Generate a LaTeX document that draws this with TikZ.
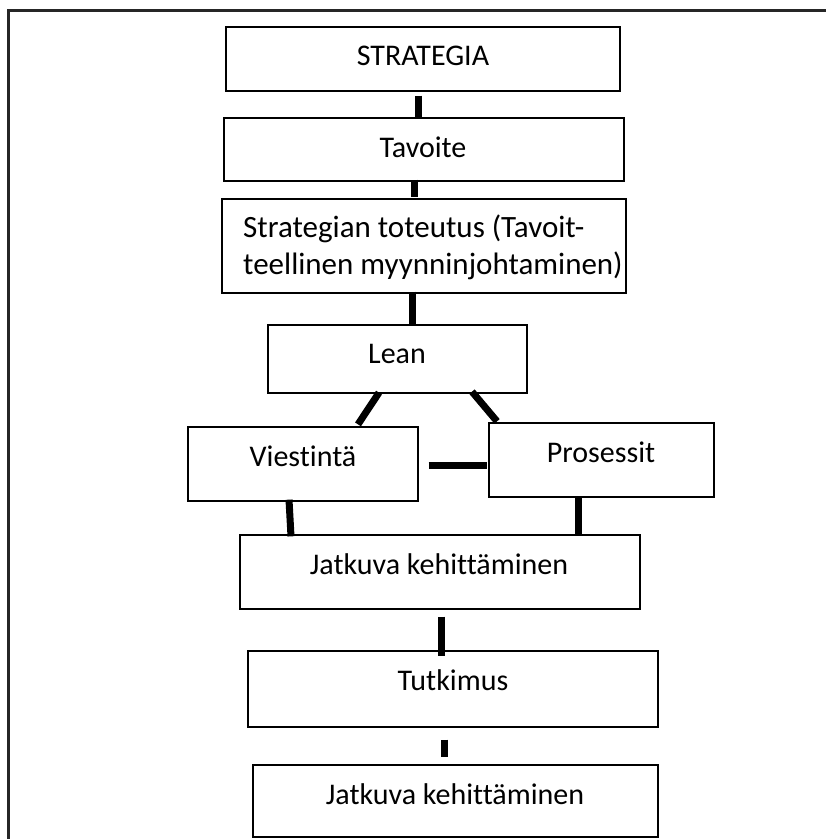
\documentclass[tikz,border=0pt]{standalone}
\usepackage{fontspec}
\setmainfont{Carlito}[Ligatures={NoCommon}]
\usetikzlibrary{calc}
\begin{document}
\begin{tikzpicture}[x=1pt,y=-1pt,
  box/.style={draw=black,line width=1.3pt,inner sep=0pt,rectangle},
  lbl/.style={inner sep=0pt,font=\fontsize{30}{37}\selectfont},
  biglbl/.style={inner sep=0pt,font=\fontsize{31}{37}\selectfont},
  conn/.style={line width=7pt,line cap=butt}]
\useasboundingbox (0,0) rectangle (826,839);
\clip (0,0) rectangle (826,839);
% outer frame
\draw[line width=3pt,draw=black!85] (8,900) -- (8,10) -- (900,10);
% boxes
\node[box,minimum width=394pt,minimum height=64pt] (s1) at (423,59) {};
\node[box,minimum width=400pt,minimum height=63pt] (s2) at (424,149.5) {};
\node[box,minimum width=404pt,minimum height=94pt] (s3) at (424,246) {};
\node[box,minimum width=259pt,minimum height=68pt] (s4) at (397.5,359) {};
\node[box,minimum width=230pt,minimum height=74pt] (s5) at (303,464) {};
\node[box,minimum width=225pt,minimum height=74pt] (s6) at (601.5,460) {};
\node[box,minimum width=400pt,minimum height=74pt] (s7) at (440,572) {};
\node[box,minimum width=410pt,minimum height=76pt] (s8) at (453,689) {};
\node[box,minimum width=405pt,minimum height=72pt] (s9) at (455.5,801) {};
% labels
\node[lbl,anchor=base] (t1) at (423,65) {STRATEGIA};
\node[lbl,anchor=base] (t2) at (423,157) {Tavoite};
\node[biglbl,anchor=base west] (t3a) at (243,237) {Strategian toteutus (Tavoit-};
\node[biglbl,anchor=base west] (t3b) at (243,274) {teellinen myynninjohtaminen)};
\node[lbl,anchor=base] (t4) at (397,363) {Lean};
\node[lbl,anchor=base] (t5) at (303,466) {Viestintä};
\node[lbl,anchor=base] (t6) at (601,462) {Prosessit};
\node[lbl,anchor=base] (t7) at (439,574) {Jatkuva kehittäminen};
\node[lbl,anchor=base] (t8) at (453,690) {Tutkimus};
\node[lbl,anchor=base] (t9) at (455,804) {Jatkuva kehittäminen};
% connectors
\draw[conn] ($(s1.south)+(-5,4)$) -- ($(s2.north)+(-6,2)$);
\draw[conn] ($(s2.south)+(-10,-2)$) -- ($(s3.north)+(-10,-1)$);
\draw[conn] ($(s3.south)+(-12,-2)$) -- ($(s4.north)+(14.5,1)$);
\draw[conn] ($(s4.south)+(-18.5,-1)$) -- ($(s5.north)+(55,-2)$);
\draw[conn] ($(s4.south)+(74.5,-2)$) -- ($(s6.north)+(-104.5,-1)$);
\draw[conn] ($(s5.east)+(10,1)$) -- ($(s6.west)+(-1,5)$);
\draw[conn] ($(s5.south)+(-14,-2)$) -- ($(s7.north)+(-149,2)$);
\draw[conn] ($(s6.south)+(-23.5,-1)$) -- ($(s7.north)+(138,0)$);
\draw[conn] ($(s7.south)+(1,7)$) -- ($(s8.north)+(-12,6)$);
\draw[conn] ($(s8.south)+(-9,12)$) -- ($(s9.north)+(-11.5,-7)$);
\end{tikzpicture}
\end{document}
